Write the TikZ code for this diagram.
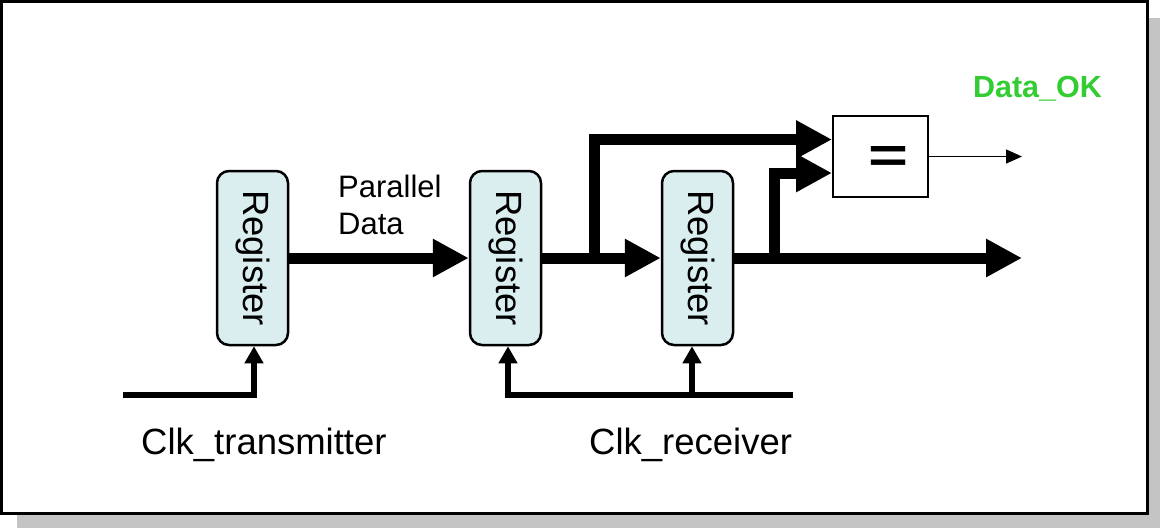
\documentclass[tikz,border=0pt]{standalone}
\usepackage{fontspec}
\setmainfont{Liberation Sans}
\usepackage{graphicx}
\usetikzlibrary{arrows.meta}
\definecolor{regfill}{RGB}{218,237,239}
\definecolor{okgreen}{RGB}{51,204,51}
\definecolor{shadowgray}{RGB}{196,196,196}
\begin{document}
\begin{tikzpicture}[x=1pt,y=-1pt,
  reg/.style={draw, line width=2.5pt, rounded corners=12pt, fill=regfill,
    minimum width=71pt, minimum height=174pt, inner sep=0pt,
    font=\fontsize{36.5}{40}\selectfont},
  bus/.style={line width=11pt, -{Triangle[length=36pt,width=36pt]}},
  clk/.style={line width=5.5pt, -{Triangle[length=17pt,width=18pt]}},
  lbl/.style={inner sep=0pt, font=\fontsize{36.5}{40}\selectfont},
]
\useasboundingbox (0,0) rectangle (1160,528);
% frame with shadow
\fill[shadowgray] (17,18) rectangle (1160,528);
\draw[line width=2.5pt, fill=white] (1.5,1.5) rectangle (1147.5,513.5);

% registers
\node[reg] (r1) at (252.5,258) {\rotatebox{-90}{Register}};
\node[reg] (r2) at (505.5,258) {\rotatebox{-90}{Register}};
\node[reg] (r3) at (697.5,258) {\rotatebox{-90}{Register}};

% comparator
\node[draw, line width=2pt, minimum width=95pt, minimum height=81pt, inner sep=0pt] (eq) at (880.5,156.5) {};
\node[inner sep=0pt] (eqsign) at (888,159) {\resizebox{40pt}{26pt}{\bfseries =}};

% coordinates
\coordinate (busout) at (1022,258);
\coordinate (tapA) at (594,258);
\coordinate (tapB) at (774,258);
\coordinate (dataout) at (1022,156.5);
\coordinate (clkT) at (123,395);
\coordinate (clkR) at (793,395);
\coordinate (tapC) at (692,395);

% data bus
\draw[bus] (r1.east) -- (r2.west);
\draw[bus] (r2.east) -- (r3.west);
\draw[bus] (r3.east) -- (busout);
\draw[bus] (tapA) |- ([yshift=17pt]eq.west);
\draw[bus] (tapB) |- ([yshift=-16.5pt]eq.west);
\draw[line width=1.3pt, -{Triangle[length=16pt,width=14pt]}] (eq.east) -- (dataout);

% clocks
\draw[clk] (clkT) -| ([xshift=1.5pt]r1.south);
\draw[clk] (clkR) -| ([xshift=2.5pt]r2.south);
\draw[clk] (tapC) -- ([xshift=-5.5pt]r3.south);

% labels
\node[anchor=north west, inner sep=0pt, align=left, font=\fontsize{31}{37}\selectfont] (pd) at (338,175) {Parallel\\Data};
\node[lbl, anchor=base west] (clkTl) at (141,454) {Clk\_transmitter};
\node[lbl, anchor=base west] (clkRl) at (589,454) {Clk\_receiver};
\node[inner sep=0pt, anchor=base, text=okgreen, font=\bfseries\fontsize{30.5}{36}\selectfont] (ok) at (1037.5,97) {Data\_OK};
\end{tikzpicture}
\end{document}
